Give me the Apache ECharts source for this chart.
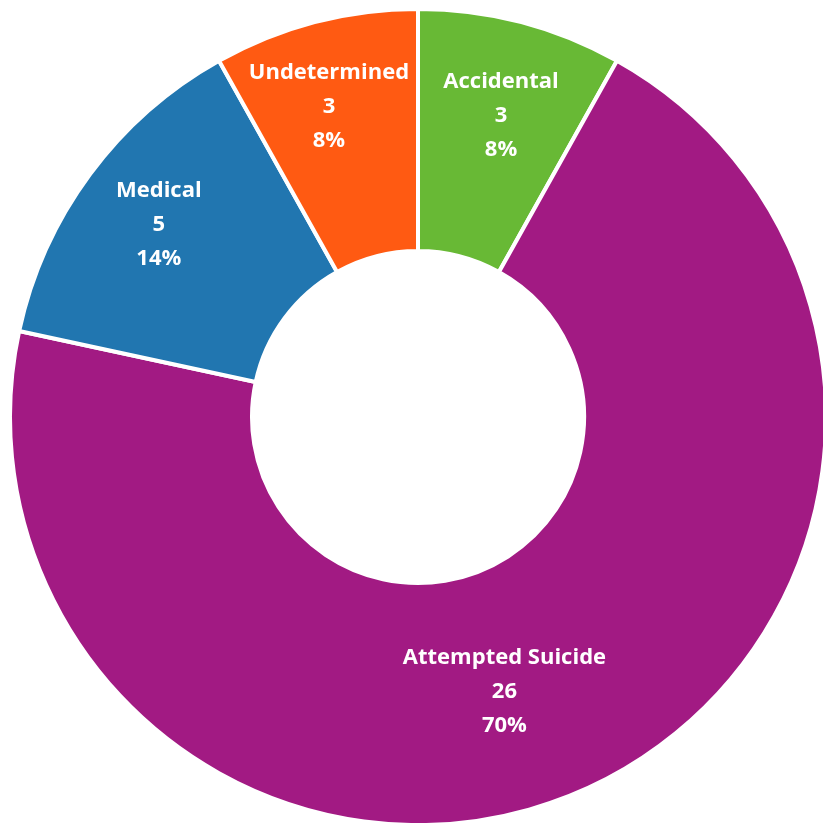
<!DOCTYPE html>
<html>
<head>
<meta charset="utf-8">
<script src="https://cdn.jsdelivr.net/npm/echarts@6/dist/echarts.min.js"></script>
<style>
html,body{margin:0;padding:0;background:#fff}
#chart{width:823px;height:823px}
</style>
</head>
<body>
<div id="chart"></div>
<script>
const categories=["Accidental","Attempted Suicide","Medical","Undetermined"];
const counts=[3,26,5,3];
const colors=["#68b935","#a21a83","#2176b0","#ff5a12"];
// nudge labels toward where the original put them
const labelShift=[[10,-21],[-33,10],[-26,-20],[-16,-30]];

const chart=echarts.init(document.getElementById("chart"));
chart.setOption({
  animation:false,
  series:[{
    type:"pie",
    center:[418,417],
    radius:[166,408],
    startAngle:90,
    clockwise:true,
    percentPrecision:0,
    itemStyle:{borderColor:"#fff",borderWidth:4},
    label:{
      show:true,position:"inside",
      formatter:"{b}\n{c}\n{d}%",
      color:"#fff",fontSize:22,fontWeight:"bold",
      fontFamily:"Open Sans",lineHeight:34,align:"center"
    },
    labelLine:{show:false},
    labelLayout:p=>({dx:labelShift[p.dataIndex][0],dy:labelShift[p.dataIndex][1]}),
    data:categories.map((c,i)=>({name:c,value:counts[i],itemStyle:{color:colors[i]}}))
  }]
});
</script>
</body>
</html>
